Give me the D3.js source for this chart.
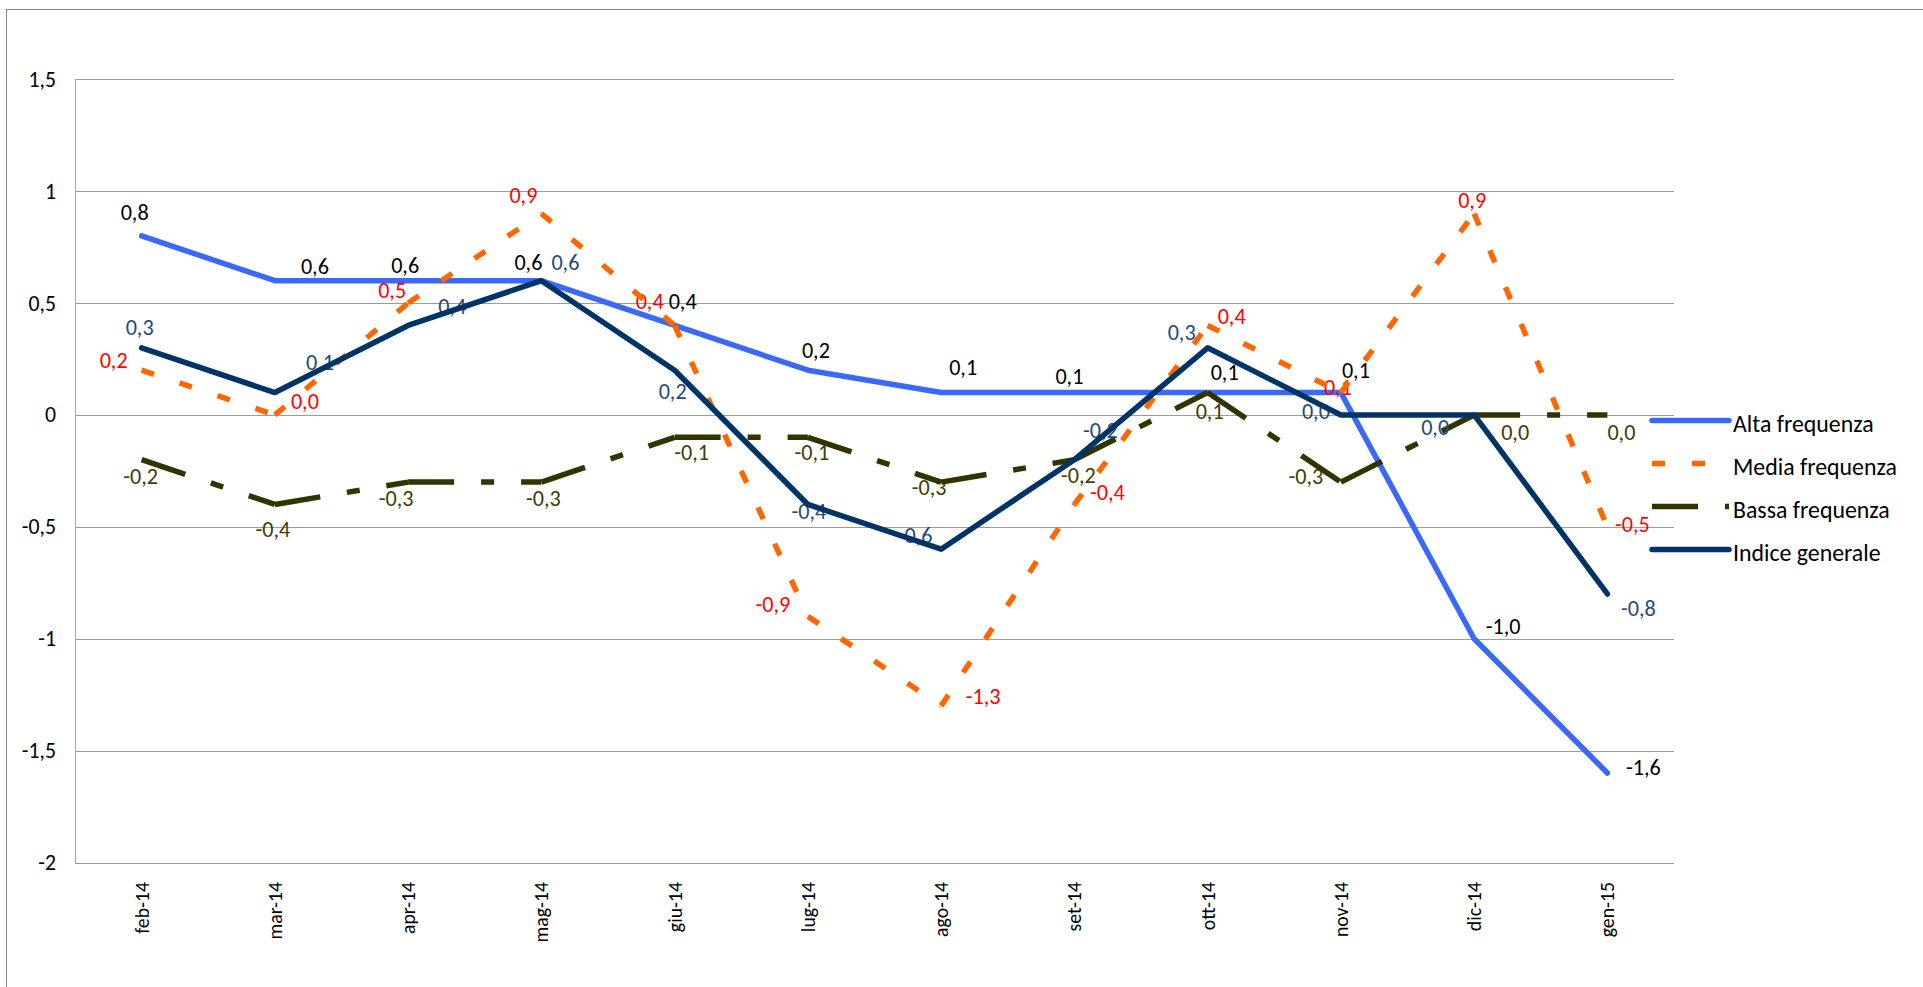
<!DOCTYPE html>
<html>
<head>
<meta charset="utf-8">
<script src="https://cdn.jsdelivr.net/npm/d3@7"></script>
<style>
  html, body { margin: 0; padding: 0; background: #ffffff; }
  svg { display: block; font-family: Carlito, Lato, "Open Sans", sans-serif; }
</style>
</head>
<body>
<svg id="chart" width="1923" height="987"></svg>
<script>
// ---- data ----
const months = ["feb-14", "mar-14", "apr-14", "mag-14", "giu-14", "lug-14",
                "ago-14", "set-14", "ott-14", "nov-14", "dic-14", "gen-15"];
const altaFrequenza  = [0.8, 0.6, 0.6, 0.6, 0.4, 0.2, 0.1, 0.1, 0.1, 0.1, -1.0, -1.6];
const mediaFrequenza = [0.2, 0.0, 0.5, 0.9, 0.4, -0.9, -1.3, -0.4, 0.4, 0.1, 0.9, -0.5];
const bassaFrequenza = [-0.2, -0.4, -0.3, -0.3, -0.1, -0.1, -0.3, -0.2, 0.1, -0.3, 0.0, 0.0];
const indiceGenerale = [0.3, 0.1, 0.4, 0.6, 0.2, -0.4, -0.6, -0.2, 0.3, 0.0, 0.0, -0.8];
const seriesNames = ["Alta frequenza", "Media frequenza", "Bassa frequenza", "Indice generale"];
const yTicks = [1.5, 1, 0.5, 0, -0.5, -1, -1.5, -2];

// ---- value-label nudges (px, from each point to the label centre) ----
const altaNudge  = [[-7,-24],[40,-14],[-3,-15],[-13,-18],[8,-24],[8,-20],[22,-25],[-5,-16],[17,-20],[15,-22],[29,-12],[36,-6]];
const mediaNudge = [[-28,-10],[30,-14],[-16,-13],[-18,-18],[-25,-24],[-35,-12],[42,-10],[33,-12],[24,-9],[-3,-5],[-2,-13],[25,-3]];
const bassaNudge = [[-1,17],[-2,25],[-12,16],[2,16],[17,15],[4,15],[-12,5],[4,16],[2,19],[-35,-6],[41,17],[14,17]];
const indiceNudge = [[-2,-21],[45,-30],[44,-19],[24,-18],[-2,21],[1,7],[-26,-14],[26,-29],[-26,-16],[-25,-4],[-39,12],[31,14]];

const series = [
  { name: seriesNames[0], values: altaFrequenza,  nudge: altaNudge,   color: "#3a68f8", label: "#000000", dash: null },
  { name: seriesNames[1], values: mediaFrequenza, nudge: mediaNudge,  color: "#ff6600", label: "#ff0000", dash: "13 27" },
  { name: seriesNames[2], values: bassaFrequenza, nudge: bassaNudge,  color: "#333300", label: "#3d3d05", dash: "46 27 13 27" },
  { name: seriesNames[3], values: indiceGenerale, nudge: indiceNudge, color: "#003366", label: "#1f4a7c", dash: null }
];

// ---- layout ----
const plot = { left: 75, right: 1674, top: 79.3, bottom: 862.5 };
const LINE_W = 5.5;
const fmt = v => d3.format(".1f")(v).replace("\u2212", "-").replace(".", ",");
const tickFmt = v => String(v).replace(".", ",");

const svg = d3.select("#chart");

// pick a font size so that a sample string gets the wanted width
function sizeFor(sample, width) {
  const t = svg.append("text").attr("font-size", 100).text(sample);
  const w = t.node().getComputedTextLength();
  t.remove();
  return w > 0 ? 100 * width / w : 20;
}
const valueSize  = sizeFor("0,1", 28);
const yTickSize  = sizeFor("1,5", 27.5);
const xTickSize  = sizeFor("feb-14", 51.7);
const legendSize = sizeFor("Alta frequenza", 140.7);

const x = d3.scalePoint().domain(months).range([plot.left, plot.right]).padding(0.5);
const y = d3.scaleLinear().domain([-2, 1.5]).range([plot.bottom, plot.top]);

// outer chart frame
svg.append("rect")
  .attr("x", 6.5).attr("y", 9.5)
  .attr("width", 1930).attr("height", 1000)
  .attr("fill", "none").attr("stroke", "#8a8a8a").attr("stroke-width", 1);

// horizontal gridlines
svg.append("g").selectAll("line").data(yTicks).join("line")
  .attr("x1", plot.left).attr("x2", plot.right)
  .attr("y1", d => Math.round(y(d)) + 0.5).attr("y2", d => Math.round(y(d)) + 0.5)
  .attr("stroke", "#9c9c9c").attr("stroke-width", 1);

// vertical value axis line
svg.append("line")
  .attr("x1", plot.left + 0.5).attr("x2", plot.left + 0.5)
  .attr("y1", Math.round(y(1.5)) + 0.5).attr("y2", Math.round(y(-2)) + 0.5)
  .attr("stroke", "#a8a8a8").attr("stroke-width", 1);

// value-axis labels
const yAxis = d3.axisLeft(y).tickValues(yTicks).tickFormat(tickFmt).tickSize(0).tickPadding(19);
const gy = svg.append("g").attr("transform", `translate(${plot.left},0)`).call(yAxis);
gy.select(".domain").remove();
gy.selectAll("text")
  .attr("font-family", null)
  .attr("font-size", yTickSize).attr("fill", "#000");
gy.attr("font-family", null).attr("font-size", null);

// category labels, rotated
svg.append("g").selectAll("text").data(months).join("text")
  .attr("transform", d => `translate(${x(d)},${882}) rotate(-90)`)
  .attr("text-anchor", "end").attr("dy", "0.35em")
  .attr("font-size", xTickSize).attr("fill", "#000")
  .text(d => d);

const line = d3.line().x(d => x(d.m)).y(d => y(d.v));

series.forEach(s => {
  const pts = s.values.map((v, i) => ({ m: months[i], v, i }));
  const g = svg.append("g");

  // value labels
  g.append("g").selectAll("text").data(pts).join("text")
    .attr("x", d => x(d.m) + s.nudge[d.i][0])
    .attr("y", d => y(d.v) + s.nudge[d.i][1] + 0.35 * valueSize)
    .attr("text-anchor", "middle")
    .attr("font-size", valueSize).attr("fill", s.label)
    .text(d => fmt(d.v));

  if (s.dash) {
    // dashed series: the dash pattern restarts at every point
    const segs = d3.pairs(pts);
    g.append("g").selectAll("path").data(segs).join("path")
      .attr("d", d => line(d))
      .attr("fill", "none").attr("stroke", s.color)
      .attr("stroke-width", LINE_W).attr("stroke-dasharray", s.dash)
      .attr("stroke-linecap", "butt");
  } else {
    g.append("path").attr("d", line(pts))
      .attr("fill", "none").attr("stroke", s.color)
      .attr("stroke-width", LINE_W)
      .attr("stroke-linejoin", "round").attr("stroke-linecap", "round");
  }
});

// legend
const legend = svg.append("g").attr("transform", "translate(1652,420.5)");
const rows = legend.selectAll("g").data(series).join("g")
  .attr("transform", (d, i) => `translate(0,${i * 43})`);
rows.append("path")
  .attr("d", "M0,0H77")
  .attr("fill", "none")
  .attr("stroke", d => d.color).attr("stroke-width", LINE_W)
  .attr("stroke-dasharray", d => d.dash)
  .attr("stroke-linecap", d => d.dash ? "butt" : "round");
rows.append("text")
  .attr("x", 81).attr("y", 11)
  .attr("font-size", legendSize).attr("fill", "#000")
  .text(d => d.name);
</script>
</body>
</html>
